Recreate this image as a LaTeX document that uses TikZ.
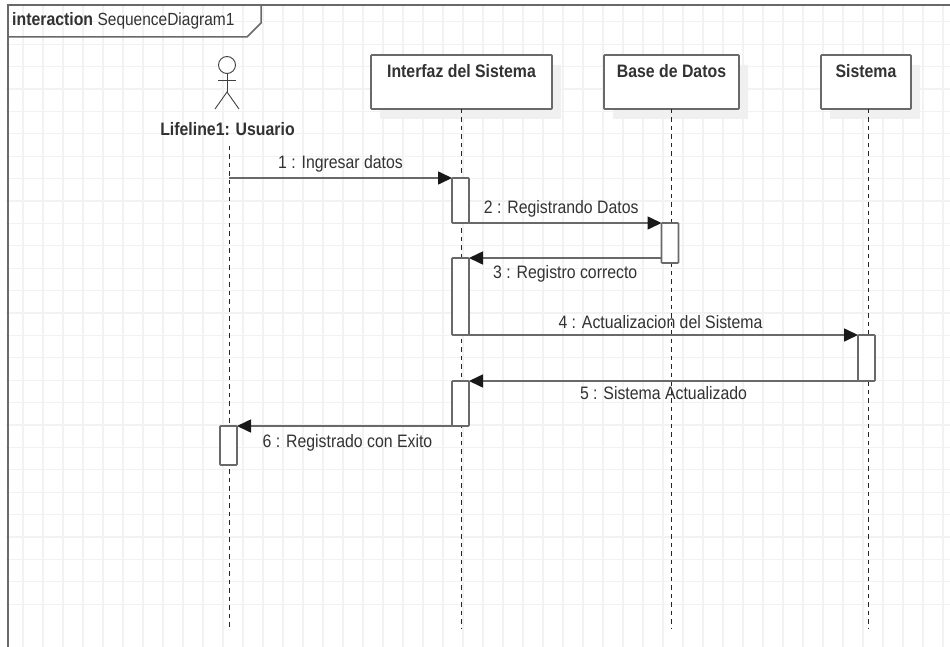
\documentclass[tikz,border=0pt]{standalone}
\usepackage{fontspec}
\setmainfont{Liberation Sans}[FakeStretch=0.88]
\usetikzlibrary{arrows.meta,shadows}
\definecolor{gridgray}{RGB}{242,242,242}
\definecolor{linegray}{RGB}{105,105,105}
\definecolor{textgray}{RGB}{50,50,50}
\tikzset{
    lifebox/.style={shape=rectangle,draw=linegray,line width=1.6pt,fill=white,rounded corners=0.8pt,inner xsep=0pt,inner ysep=0pt,outer sep=0pt,text height=23pt,text depth=31pt,font=\fontsize{18}{20}\selectfont\bfseries,text=textgray,drop shadow={shadow xshift=9pt,shadow yshift=-10pt,fill=black!6,opacity=1}},
    actbox/.style={shape=rectangle,draw=linegray,line width=1.6pt,fill=white,rounded corners=0.8pt,minimum width=17pt,inner sep=0pt,outer sep=0pt},
    lifeline/.style={draw=black!85,line width=1pt,dash pattern=on 4.5pt off 4pt},
    msg/.style={draw=linegray,line width=1.6pt,-{Triangle[length=14pt,width=13pt,color=black!90]}},
    msgtext/.style={text=textgray,font=\fontsize{18}{20}\selectfont,inner sep=0pt},
    stick/.style={draw=black!75,line width=0.9pt}
}
\begin{document}
\begin{tikzpicture}[x=1pt,y=-1pt]
    \useasboundingbox (0,0) rectangle (950,647);
    \fill[white] (0,0) rectangle (950,647);
    % grid
    \foreach \gx in {23,43,...,943} \draw[gridgray,line width=1.1pt] (\gx,6) -- (\gx,647);
    \foreach \gy in {0,...,26} \draw[gridgray,line width=1.1pt] (6,21.8+\gy*22.4) -- (950,21.8+\gy*22.4);
    % frame
    \coordinate (frameA) at (8,647);
    \coordinate (frameB) at (8,5);
    \coordinate (frameC) at (950,5);
    \draw[draw=linegray,line width=1.8pt] (frameA) -- (frameB) -- (frameC);
    \node[inner sep=0pt,anchor=base west,text=textgray,font=\fontsize{18}{20}\selectfont] (frametitle) at (12,26) {\textbf{interaction} {\fontsize{17.6}{20}\selectfont SequenceDiagram1}};
    \draw[draw=linegray,line width=1.5pt] (261,5) -- (261,23) -- (247,37) -- (8,37);
    % heads
    \node[lifebox,minimum width=181pt] (interfaz) at (461.5,82) {Interfaz del Sistema};
    \node[lifebox,minimum width=135pt] (base) at (671.5,82) {Base de Datos};
    \node[lifebox,minimum width=90pt] (sistema) at (866,82) {Sistema};
    % actor
    \node[shape=circle,draw=black!75,line width=0.9pt,fill=white,minimum size=17pt,inner sep=0pt,outer sep=0pt] (head) at (227,65) {};
    \coordinate (hip) at (227,92);
    \coordinate (armL) at (218,80);
    \coordinate (armR) at (236,80);
    \coordinate (legL) at (215,109);
    \coordinate (legR) at (239,109);
    \draw [stick](head) -- (hip);
    \draw [stick](armL) -- (armR);
    \draw [stick](legL) -- (hip) -- (legR);
    \node[inner sep=0pt,text=textgray,font=\fontsize{18}{20}\selectfont\bfseries] (usuario) at (227.5,129) {Lifeline1: Usuario};
    % lifelines
    \coordinate (usuarioTop) at (229,146);
    \coordinate (usuarioEnd) at (229,628);
    \coordinate (interfazEnd) at (461.5,628);
    \coordinate (baseEnd) at (671.5,628);
    \coordinate (sistemaEnd) at (868,628);
    \draw [lifeline](usuarioTop) -- (usuarioEnd);
    \draw [lifeline](interfaz.south) -- (interfazEnd);
    \draw [lifeline](base.south) -- (baseEnd);
    \draw [lifeline](sistema.south -| sistemaEnd) -- (sistemaEnd);
    % activations
    \node[actbox,minimum height=45pt] (act1) at (460.5,200.5) {};
    \node[actbox,minimum height=40pt] (act2) at (670,243) {};
    \node[actbox,minimum height=77pt] (act3) at (460.5,296.5) {};
    \node[actbox,minimum height=46pt] (act4) at (866.5,358) {};
    \node[actbox,minimum height=45pt] (act5) at (460.5,403.5) {};
    \node[actbox,minimum height=39pt] (act6) at (228.5,445.5) {};
    % messages
    \coordinate (msgstart) at (229,178);
    \coordinate (ret3) at (act2.west |- act3.north);
    \coordinate (ret5) at (act4.west |- act5.north);
    \draw [msg](msgstart) -- node[msgtext,above=4.5pt]{1 : Ingresar datos} (act1.north west);
    \draw [msg](act1.south east) -- node[msgtext,above=4.5pt,xshift=-4pt]{2 : Registrando Datos} (act2.north west);
    \draw [msg](ret3) -- node[msgtext,below=6.5pt]{3 : Registro correcto} (act3.north east);
    \draw [msg](act3.south east) -- node[msgtext,above=6pt,xshift=-3pt]{4 : Actualizacion del Sistema} (act4.north west);
    \draw [msg](ret5) -- node[msgtext,below=5pt]{5 : Sistema Actualizado} (act5.north east);
    \draw [msg](act5.south west) -- node[msgtext,below=7.5pt,xshift=3pt]{6 : Registrado con Exito} (act6.north east);
\end{tikzpicture}
\end{document}
